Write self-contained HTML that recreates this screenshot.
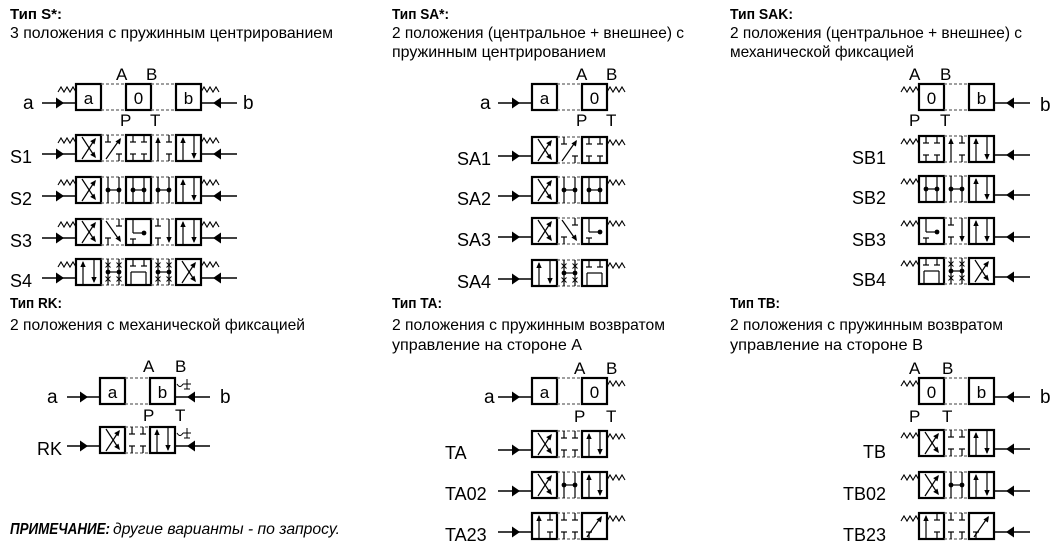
<!DOCTYPE html>
<html><head><meta charset="utf-8">
<style>
html,body{margin:0;padding:0;background:#fff;}
svg{display:block;}
text{font-family:"Liberation Sans","DejaVu Sans",sans-serif;fill:#000;}
</style></head>
<body>
<svg id="s" width="1053" height="543" viewBox="0 0 1053 543" xmlns="http://www.w3.org/2000/svg">
<g font-size="16">
<text x="10" y="19" font-weight="bold" font-size="15" textLength="52" lengthAdjust="spacingAndGlyphs">Тип S*:</text>
<text x="10" y="38" textLength="323" lengthAdjust="spacingAndGlyphs">3 положения с пружинным центрированием</text>
<text x="392" y="19" font-weight="bold" font-size="15" textLength="57" lengthAdjust="spacingAndGlyphs">Тип SA*:</text>
<text x="392" y="38" textLength="292" lengthAdjust="spacingAndGlyphs">2 положения (центральное + внешнее) с</text>
<text x="392" y="57" textLength="214" lengthAdjust="spacingAndGlyphs">пружинным центрированием</text>
<text x="730" y="19" font-weight="bold" font-size="15" textLength="63" lengthAdjust="spacingAndGlyphs">Тип SAK:</text>
<text x="730" y="38" textLength="292" lengthAdjust="spacingAndGlyphs">2 положения (центральное + внешнее) с</text>
<text x="730" y="57" textLength="184" lengthAdjust="spacingAndGlyphs">механической фиксацией</text>
<text x="10" y="308" font-weight="bold" font-size="15" textLength="52" lengthAdjust="spacingAndGlyphs">Тип RK:</text>
<text x="10" y="330" textLength="295" lengthAdjust="spacingAndGlyphs">2 положения с механической фиксацией</text>
<text x="392" y="308" font-weight="bold" font-size="15" textLength="50" lengthAdjust="spacingAndGlyphs">Тип TA:</text>
<text x="392" y="330" textLength="273" lengthAdjust="spacingAndGlyphs">2 положения с пружинным возвратом</text>
<text x="392" y="350" textLength="190" lengthAdjust="spacingAndGlyphs">управление на стороне А</text>
<text x="730" y="308" font-weight="bold" font-size="15" textLength="50" lengthAdjust="spacingAndGlyphs">Тип TB:</text>
<text x="730" y="330" textLength="273" lengthAdjust="spacingAndGlyphs">2 положения с пружинным возвратом</text>
<text x="730" y="350" textLength="193" lengthAdjust="spacingAndGlyphs">управление на стороне В</text>
<text x="10" y="534" font-style="italic"><tspan font-weight="bold" textLength="100" lengthAdjust="spacingAndGlyphs">ПРИМЕЧАНИЕ:</tspan><tspan dx="3" textLength="227" lengthAdjust="spacingAndGlyphs">другие варианты - по запросу.</tspan></text>
</g>
<g id="d"></g>
</svg>
<script>
var o='';
var W=25,H=26,L=7,R=18;
function ln(x1,y1,x2,y2,w,c){o+='<line x1="'+x1+'" y1="'+y1+'" x2="'+x2+'" y2="'+y2+'" stroke="'+(c||'#000')+'" stroke-width="'+(w||1.2)+'"/>';}
function tri(x,y,dx,dy,s){var l=Math.hypot(dx,dy);dx/=l;dy/=l;var px=-dy,py=dx;s=s||6;
 o+='<polygon points="'+x+','+y+' '+(x-dx*s+px*s*0.45)+','+(y-dy*s+py*s*0.45)+' '+(x-dx*s-px*s*0.45)+','+(y-dy*s-py*s*0.45)+'"/>';}
function big(x,y,dir){o+='<polygon points="'+x+','+y+' '+(x-dir*8)+','+(y-5.5)+' '+(x-dir*8)+','+(y+5.5)+'"/>';}
function dot(x,y){o+='<circle cx="'+x+'" cy="'+y+'" r="2.4"/>';}
function txt(x,y,t,sz,anchor){o+='<text x="'+x+'" y="'+y+'" font-size="'+(sz||18)+'"'+(anchor?' text-anchor="'+anchor+'"':'')+'>'+t+'</text>';}
function sym(x,y,toks){
 toks.split(' ').forEach(function(t){
  var p=t[1]=='L'?x+L:x+R;
  switch(t[0]){
   case 't': ln(p,y,p,y+7);ln(p-3,y+7,p+3,y+7);break;
   case 'b': ln(p,y+H,p,y+H-7);ln(p-3,y+H-7,p+3,y+H-7);break;
   case 'u': ln(p,y+H,p,y+3);tri(p,y+2,0,-1);break;
   case 'd': ln(p,y,p,y+H-3);tri(p,y+H-2,0,1);break;
   case 'v': ln(p,y,p,y+H);break;
  }
  if(t=='X'){ln(x+L-1,y+H-2,x+R+1,y+4);tri(x+R+2,y+3,1,-1.3);ln(x+L-1,y+2,x+R+1,y+H-4);tri(x+R+2,y+H-3,1,1.3);}
  if(t=='D'){ln(x+L-2,y+H-2,x+R+1,y+4);tri(x+R+2,y+3,1,-1.5);}
  if(t=='N'){ln(x+L-2,y+2,x+R+1,y+H-4);tri(x+R+2,y+H-3,1,1.5);}
  if(t=='H'){ln(x+L,y,x+L,y+H);ln(x+R,y,x+R,y+H);ln(x+L,y+13,x+R,y+13);dot(x+L,y+13);dot(x+R,y+13);}
  if(t=='J'){ln(x+L,y,x+L,y+14);ln(x+L,y+14,x+R,y+14);dot(x+R,y+14);ln(x+L,y+H,x+L,y+H-6);ln(x+L-3,y+H-6,x+L+3,y+H-6);}
  if(t=='U'){ln(x+L,y,x+L,y+7);ln(x+L-3,y+7,x+L+3,y+7);ln(x+R,y,x+R,y+7);ln(x+R-3,y+7,x+R+3,y+7);ln(x+L-2,y+H,x+L-2,y+13);ln(x+L-2,y+13,x+R+2,y+13);ln(x+R+2,y+13,x+R+2,y+H);}
  if(t=='B'){sym(x,y,'tL tR bL bR');}
  if(t=='Q'){[x+L,x+R].forEach(function(q){ln(q,y,q,y+H);[6,20].forEach(function(k){ln(q-2.5,y+k-2.5,q+2.5,y+k+2.5,1);ln(q-2.5,y+k+2.5,q+2.5,y+k-2.5,1);});});ln(x+L,y+13,x+R,y+13);dot(x+L,y+13);dot(x+R,y+13);}
 });
}
function box(x,y){o+='<rect x="'+x+'" y="'+y+'" width="'+W+'" height="'+H+'" fill="none" stroke="#000" stroke-width="2.2"/>';}
function dash(x,y){o+='<line x1="'+x+'" y1="'+y+'" x2="'+(x+W)+'" y2="'+y+'" stroke="#666" stroke-width="1.3" stroke-dasharray="3,2"/><line x1="'+x+'" y1="'+(y+H)+'" x2="'+(x+W)+'" y2="'+(y+H)+'" stroke="#666" stroke-width="1.3" stroke-dasharray="3,2"/>';}
function row(x0,y,parts,hdr){
 parts.forEach(function(p,i){var x=x0+i*W;
  if(i%2==0){box(x,y); if(hdr){txt(x+12.5,y+20,p,17,'middle');} else if(p) sym(x,y,p);}
  else{dash(x,y); if(!hdr&&p) sym(x,y,p);}
 });
 return x0+parts.length*W;
}
function spring(x1,x2,y){var s='M'+x1+','+(y+8),n=6,dx=(x2-x1)/n;for(var i=1;i<=n;i++){s+=' L'+(x1+dx*i)+','+(y+(i%2?3:8));}
 o+='<path d="'+s+'" fill="none" stroke="#000" stroke-width="1.1"/>';}
function leftArr(x0,y,lx){var yy=y+19;ln(lx,yy,x0,yy,1.4);big(x0-12,yy,1);}
function rightArr(x1,y,rx){var yy=y+19;ln(x1,yy,rx,yy,1.4);big(x1+12,yy,-1);}
function detent(x,y){o+='<path d="M'+(x+2)+','+(y+6)+' q3,5 6,0" fill="none" stroke="#000" stroke-width="1"/>';ln(x+8,y+6,x+16,y+6,1);ln(x+12,y+1,x+12,y+11,1);ln(x+9,y+11,x+15,y+11,1);}

// ---- Type S
var y=84,e;
txt(116,80,'A',17);txt(146,80,'B',17);txt(120,126,'P',17);txt(150,126,'T',17);
e=row(76,y,['a','','0','','b'],1);leftArr(76,y,42);rightArr(e,y,237);spring(58,76,y);spring(e,e+18,y);
txt(23,109,'a',19);txt(243,109,'b',19);
var S=[['S1',135,['X','tL D bR','B','uL tR bR','uL dR']],
['S2',177,['X','H','H','H','uL dR']],
['S3',219,['X','N tR bL','J','tL bL dR','uL dR']],
['S4',259,['uL dR','Q','U','Q','X']]];
S.forEach(function(r){e=row(76,r[1],r[2]);leftArr(76,r[1],42);rightArr(e,r[1],237);spring(58,76,r[1]);spring(e,e+18,r[1]);txt(10,r[1]+28,r[0],18);});

// ---- Type SA
y=84;txt(576,80,'A',17);txt(606,80,'B',17);txt(576,126,'P',17);txt(606,126,'T',17);
e=row(532,y,['a','','0'],1);leftArr(532,y,498);spring(e,e+18,y);txt(480,109,'a',19);
[['SA1',137,['X','tL D bR','B']],['SA2',177,['X','H','H']],['SA3',218,['X','N tR bL','J']],['SA4',260,['uL dR','Q','U']]].forEach(function(r){
 e=row(532,r[1],r[2]);leftArr(532,r[1],498);spring(e,e+18,r[1]);txt(491,r[1]+28,r[0],18,'end');});

// ---- Type SAK
y=84;txt(909,80,'A',17);txt(940,80,'B',17);txt(909,126,'P',17);txt(940,126,'T',17);
e=row(919,y,['0','','b'],1);rightArr(e,y,1030);spring(901,919,y);txt(1040,111,'b',19);
[['SB1',136,['B','uL tR bR','uL dR']],['SB2',176,['H','H','uL dR']],['SB3',218,['J','tL bL dR','uL dR']],['SB4',258,['U','Q','X']]].forEach(function(r){
 e=row(919,r[1],r[2]);rightArr(e,r[1],1030);spring(901,919,r[1]);txt(886,r[1]+28,r[0],18,'end');});

// ---- Type RK
y=378;txt(143,372,'A',17);txt(175,372,'B',17);txt(143,421,'P',17);txt(175,421,'T',17);
e=row(100,y,['a','','b'],1);leftArr(100,y,67);rightArr(e,y,210);detent(e,y);txt(47,403,'a',19);txt(220,403,'b',19);
e=row(100,427,['X','B','uL dR']);leftArr(100,427,67);rightArr(e,427,210);detent(e,427);txt(37,455,'RK',18);

// ---- Type TA
y=378;txt(574,374,'A',17);txt(606,374,'B',17);txt(574,422,'P',17);txt(606,422,'T',17);
e=row(532,y,['a','','0'],1);leftArr(532,y,498);spring(e,e+18,y);txt(484,403,'a',19);
[['TA',431,['X','B','uL dR']],['TA02',472,['X','H','uL dR']],['TA23',513,['uL tR bR','B','D bL']]].forEach(function(r){
 e=row(532,r[1],r[2]);leftArr(532,r[1],498);spring(e,e+18,r[1]);txt(445,r[1]+28,r[0],18);});

// ---- Type TB
txt(909,374,'A',17);txt(942,374,'B',17);txt(909,422,'P',17);txt(942,422,'T',17);
e=row(919,y,['0','','b'],1);rightArr(e,y,1030);spring(901,919,y);txt(1040,403,'b',19);
[['TB',430,['X','B','uL dR']],['TB02',472,['X','H','uL dR']],['TB23',513,['uL tR bR','B','D bL']]].forEach(function(r){
 e=row(919,r[1],r[2]);rightArr(e,r[1],1030);spring(901,919,r[1]);txt(886,r[1]+28,r[0],18,'end');});

document.getElementById('d').innerHTML=o;
</script>
</body></html>
